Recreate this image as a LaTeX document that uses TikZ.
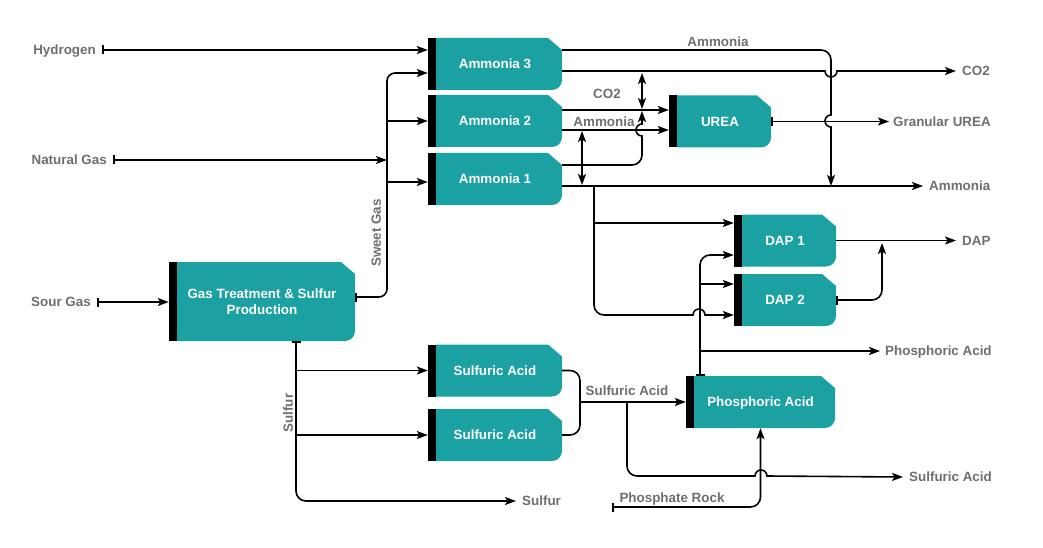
\documentclass[tikz,border=0pt]{standalone}
\usepackage{fontspec}
\setmainfont{Liberation Sans}
\usetikzlibrary{positioning}
\usetikzlibrary{arrows.meta}
\definecolor{unitteal}{RGB}{27,161,161}
\definecolor{flowgray}{RGB}{109,110,113}

\begin{document}
\begin{tikzpicture}[x=1pt,y=-1pt,
  unit/.style={minimum height=52pt,inner sep=0pt,text=white,align=center,
    text height=9.6pt,text depth=0pt,font=\fontsize{13.4}{16}\selectfont\bfseries,
    path picture={
      \fill[unitteal] ([xshift=8pt]path picture bounding box.south west)
        -- ([xshift=8pt]path picture bounding box.north west)
        -- ([xshift=-14pt]path picture bounding box.north east)
        -- ([yshift=-12pt]path picture bounding box.north east)
        -- ([yshift=10pt]path picture bounding box.south east)
        arc[start angle=0,end angle=-90,radius=10pt] -- cycle;
      \fill[black] (path picture bounding box.south west) rectangle ([xshift=8pt]path picture bounding box.north west);}},
  lbl/.style={text=flowgray,inner sep=0pt,text height=9.6pt,text depth=0pt,font=\fontsize{13.4}{16}\selectfont\bfseries},
  line/.style={line width=1.6pt},
  arr/.style={line,-{Stealth[length=11pt,width=8pt,inset=2.5pt]}},
  dbl/.style={line,{Stealth[length=11pt,width=8pt,inset=2.5pt]}-{Stealth[length=11pt,width=8pt,inset=2.5pt]}},
  feed/.style={line,{Bar[width=9pt]}-{Stealth[length=11pt,width=8pt,inset=2.5pt]}},
  barline/.style={line,{Bar[width=9pt]}-}]
 \useasboundingbox (0,0) rectangle (1043,548);

 % process units
 \node[unit,minimum width=134pt] (am3) at (495,64) {Ammonia 3};
 \node[unit,minimum width=134pt] (am2) at (495,121) {Ammonia 2};
 \node[unit,minimum width=134pt] (am1) at (495,179) {Ammonia 1};
 \node[unit,minimum width=102pt] (urea) at (720,121.5) {UREA};
 \node[unit,minimum width=102pt] (dap1) at (785,240.5) {DAP 1};
 \node[unit,minimum width=102pt] (dap2) at (785,300) {DAP 2};
 \node[unit,minimum width=149pt] (pa) at (760.5,402) {Phosphoric Acid};
 \node[unit,minimum width=134pt] (sa1) at (495,370.5) {Sulfuric Acid};
 \node[unit,minimum width=134pt] (sa2) at (495,435) {Sulfuric Acid};
 \node[unit,minimum width=186pt,minimum height=79pt,text height=25.6pt,text depth=0pt] (gt) at (262,301.5) {Gas Treatment \& Sulfur\\Production};

 % stream labels
 \node[lbl,anchor=east] (hyd) at (96,50) {Hydrogen};
 \node[lbl,anchor=east] (ng) at (107,160) {Natural Gas};
 \node[lbl,anchor=east] (sour) at (91,302) {Sour Gas};
 \node[lbl,anchor=west] (co2o) at (962,71) {CO2};
 \node[lbl,anchor=west] (gran) at (893,121.5) {Granular UREA};
 \node[lbl,anchor=west] (nh3o) at (929,186) {Ammonia};
 \node[lbl,anchor=west] (dapo) at (962,240.5) {DAP};
 \node[lbl,anchor=west] (phos) at (885,351) {Phosphoric Acid};
 \node[lbl,anchor=west] (sulo) at (909,477) {Sulfuric Acid};
 \node[lbl,anchor=west] (sulf) at (522,501) {Sulfur};
 \node[lbl] (rock) at (672,498) {Phosphate Rock};
 \node[lbl] (saflow) at (627,391) {Sulfuric Acid};
 \node[lbl] (co2flow) at (607,94) {CO2};
 \node[lbl] (nh3flow) at (604,122) {Ammonia};
 \node[lbl] (nh3top) at (718,42) {Ammonia};
 \node[lbl,rotate=90] (sweet) at (376,233) {Sweet Gas};
 \node[lbl,rotate=90] (sulfv) at (288,413) {Sulfur};

 \coordinate (sw) at (387,297);
 \coordinate (sv) at (296,341);
 \coordinate (nv) at (831,50);
 \coordinate (dv) at (594,186);
 \coordinate (pv) at (700,376);
 \coordinate (dj) at (882,243);
 \coordinate (sj) at (580,402);
 \coordinate (sk) at (627,402);
 \coordinate (rk) at (612,507);

 % feeds
 \draw[feed] ([xshift=6pt]hyd.east) -- (hyd.east -| am3.west);
 \draw[feed] ([xshift=6pt]ng.east) -- (ng.east -| sw);
 \draw[feed] ([xshift=6pt]sour.east) -- (sour.east -| gt.west);
 \draw[feed,rounded corners=8pt] (gt.east |- sw) -| ([yshift=-9pt]am3.west -| sw) -- ([yshift=-9pt]am3.west);
 \draw[arr] (sw |- am2.west) -- (am2.west);
 \draw[arr] ([yshift=-3pt]am1.west -| sw) -- ([yshift=-3pt]am1.west);
 \draw[feed,rounded corners=10pt] (sv) |- ([xshift=-6pt]sulf.west);
 \draw[arr] (sv |- sa1.west) -- (sa1.west);
 \draw[arr] (sv |- sa2.west) -- (sa2.west);

 % ammonia and urea
 \draw[arr,rounded corners=10pt] ([yshift=14pt]am3.east) -- (nv) [sharp corners] -- (831,115)
   arc[start angle=90,end angle=270,radius=6pt] -- (831,186);
 \draw[arr] ([yshift=-7pt]am3.east) -- (825,71) arc[start angle=180,end angle=360,radius=6pt] -- ([xshift=-6pt]co2o.west);
 \draw[arr] ([yshift=11pt]am2.east) -- ([yshift=11pt]am2.east -| urea.west);
 \draw[arr] ([yshift=-9pt]am2.east) -- ([yshift=-9pt]am2.east -| urea.west);
 \draw[arr,rounded corners=10pt] ([yshift=14pt]am1.east) -- (642,165) [sharp corners] -- (642,136)
   arc[start angle=270,end angle=90,radius=6pt] -- (642,111);
 \draw[dbl] (642,73) -- (642,109);
 \draw[dbl] (582,131) -- (582,185);
 \draw[arr] ([yshift=-7pt]am1.east) -- ([xshift=-6pt]nh3o.west);
 \draw[feed] (urea.east) -- ([xshift=-4pt]gran.west);

 % dap
 \draw[arr,rounded corners=10pt] (dv) -- (594,315) [sharp corners] -- (693,315)
   arc[start angle=180,end angle=0,radius=6pt] -- ([yshift=-15pt]dap2.west);
 \draw[arr] ([yshift=17.5pt]dap1.west -| dv) -- ([yshift=17.5pt]dap1.west);
 \draw[feed,rounded corners=10pt] (pv) |- ([yshift=-14.5pt]dap1.west);
 \draw[arr] ([yshift=16pt]dap2.west -| pv) -- ([yshift=16pt]dap2.west);
 \draw[arr] (phos.west -| pv) -- ([xshift=-5pt]phos.west);
 \draw[arr] (dap1.east) -- ([xshift=-6pt]dapo.west);
 \draw[feed,rounded corners=10pt] (dap2.east) -| (dj);

 % acids
 \draw[line,rounded corners=10pt] (sa1.east) -| (sj) |- (sa2.east);
 \draw[arr] (sj) -- (pa.west);
 \draw[arr,rounded corners=10pt] (sk) -- (627,476) [sharp corners] -- (755,476)
   arc[start angle=180,end angle=0,radius=6pt] -- ([xshift=-6pt]sulo.west);
 \draw[feed,rounded corners=10pt] (rk) -| (pa.south);
\end{tikzpicture}
\end{document}
